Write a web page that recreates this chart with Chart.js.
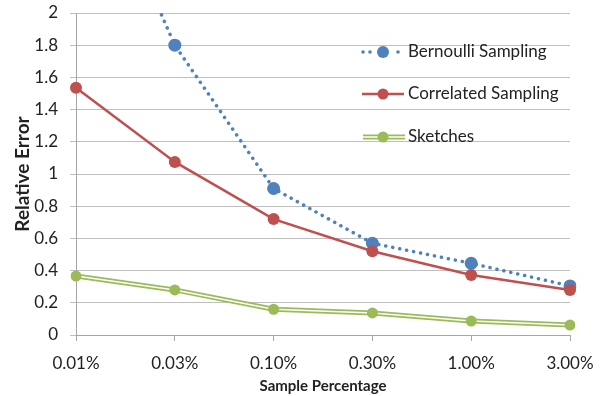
<!DOCTYPE html>
<html>
<head>
<meta charset="utf-8">
<script src="https://cdn.jsdelivr.net/npm/chart.js@4"></script>
<style>
  html, body { margin: 0; padding: 0; background: #fff; }
  #wrap { width: 600px; height: 396px; }
</style>
</head>
<body>
<div id="wrap"><canvas id="grafico" width="600" height="396"></canvas></div>
<script>
// datos
const categorias = ['0.01%', '0.03%', '0.10%', '0.30%', '1.00%', '3.00%'];
const bernoulli = [3.2, 1.80, 0.91, 0.57, 0.445, 0.305];
const correlated = [1.535, 1.075, 0.72, 0.52, 0.373, 0.28];
const sketches = [0.366, 0.28, 0.16, 0.137, 0.087, 0.062];
const yTicks = [0, 0.2, 0.4, 0.6, 0.8, 1, 1.2, 1.4, 1.6, 1.8, 2];

const AZUL = '#4f81bd';
const ROJO = '#c0504d';
const VERDE = '#9bbb59';
const FUENTE = 'Lato, "Open Sans", sans-serif';

// leyenda dibujada dentro del area del grafico
const leyenda = {
    id: 'leyenda',
    afterDraw(chart) {
        const ctx = chart.ctx;
        ctx.save();
        ctx.font = '17px ' + FUENTE;
        ctx.textBaseline = 'middle';

        // Bernoulli
        let y = 52;
        ctx.fillStyle = AZUL;
        [363, 370, 398].forEach(x => {
            ctx.beginPath(); ctx.arc(x, y, 1.8, 0, Math.PI * 2); ctx.fill();
        });
        ctx.beginPath(); ctx.arc(383, y, 6, 0, Math.PI * 2); ctx.fill();

        // Correlated
        y = 94;
        ctx.strokeStyle = ROJO; ctx.lineWidth = 2.5;
        ctx.beginPath(); ctx.moveTo(362, y); ctx.lineTo(404, y); ctx.stroke();
        ctx.fillStyle = ROJO;
        ctx.beginPath(); ctx.arc(383, y, 5.5, 0, Math.PI * 2); ctx.fill();

        // Sketches
        y = 137;
        ctx.strokeStyle = VERDE; ctx.lineWidth = 5;
        ctx.beginPath(); ctx.moveTo(363, y); ctx.lineTo(405, y); ctx.stroke();
        ctx.strokeStyle = '#fff'; ctx.lineWidth = 1.5;
        ctx.beginPath(); ctx.moveTo(363, y); ctx.lineTo(405, y); ctx.stroke();
        ctx.fillStyle = VERDE;
        ctx.beginPath(); ctx.arc(383, y, 5.5, 0, Math.PI * 2); ctx.fill();

        ctx.fillStyle = '#222';
        ctx.fillText('Bernoulli Sampling', 408, 52);
        ctx.fillText('Correlated Sampling', 408, 94);
        ctx.fillText('Sketches', 408, 137);
        ctx.restore();
    }
};

new Chart(document.getElementById('grafico').getContext('2d'), {
    type: 'line',
    data: {
        labels: categorias,
        datasets: [
            {
                label: 'Sketches',
                data: sketches,
                showLine: false,
                pointRadius: 5.5,
                pointBackgroundColor: VERDE,
                pointBorderWidth: 0,
                order: 0
            },
            {
                label: 'sk-blanco',
                data: sketches,
                borderColor: '#fff',
                borderWidth: 1.5,
                pointRadius: 0,
                order: 1
            },
            {
                label: 'sk-verde',
                data: sketches,
                borderColor: VERDE,
                borderWidth: 5,
                pointRadius: 0,
                order: 2
            },
            {
                label: 'Correlated Sampling',
                data: correlated,
                borderColor: ROJO,
                borderWidth: 2.5,
                pointRadius: 6,
                pointBackgroundColor: ROJO,
                pointBorderWidth: 0,
                order: 3
            },
            {
                label: 'Bernoulli Sampling',
                data: bernoulli,
                borderColor: AZUL,
                borderWidth: 3.5,
                borderDash: [0.1, 7],
                borderCapStyle: 'round',
                pointRadius: 6.5,
                pointBackgroundColor: AZUL,
                pointBorderWidth: 0,
                order: 4
            }
        ]
    },
    options: {
        responsive: false,
        animation: false,
        layout: { padding: { top: 13, right: 30, left: 0, bottom: 0 } },
        plugins: {
            legend: { display: false },
            tooltip: { enabled: false }
        },
        scales: {
            x: {
                offset: false,
                grid: { display: true, drawOnChartArea: false, drawTicks: true, tickLength: 6, color: '#a6a6a6' },
                border: { color: '#a6a6a6' },
                ticks: { color: '#222', font: { family: FUENTE, size: 17 }, padding: 12, maxRotation: 0 },
                title: { display: true, text: 'Sample Percentage', color: '#222', font: { family: FUENTE, size: 15, weight: 'bold' }, padding: { top: 8, bottom: 1 } },
                afterFit(scale) {
                    scale.height = 61;
                    scale.paddingLeft = 0;
                    scale.paddingRight = 0;
                }
            },
            y: {
                min: 0,
                max: 2,
                afterBuildTicks(scale) { scale.ticks = yTicks.map(v => ({ value: v })); },
                grid: { color: '#bfbfbf', tickLength: 6 },
                border: { color: '#a6a6a6' },
                ticks: {
                    color: '#222',
                    font: { family: FUENTE, size: 17 },
                    padding: 12,
                    callback: v => String(Math.round(v * 10) / 10)
                },
                title: { display: true, text: 'Relative Error', color: '#222', font: { family: FUENTE, size: 19, weight: 'bold' }, padding: { top: 11, bottom: 0 } },
                afterFit(scale) {
                    scale.width = 76;
                    scale.paddingTop = 0;
                    scale.paddingBottom = 0;
                }
            }
        }
    },
    plugins: [leyenda]
});
</script>
</body>
</html>
